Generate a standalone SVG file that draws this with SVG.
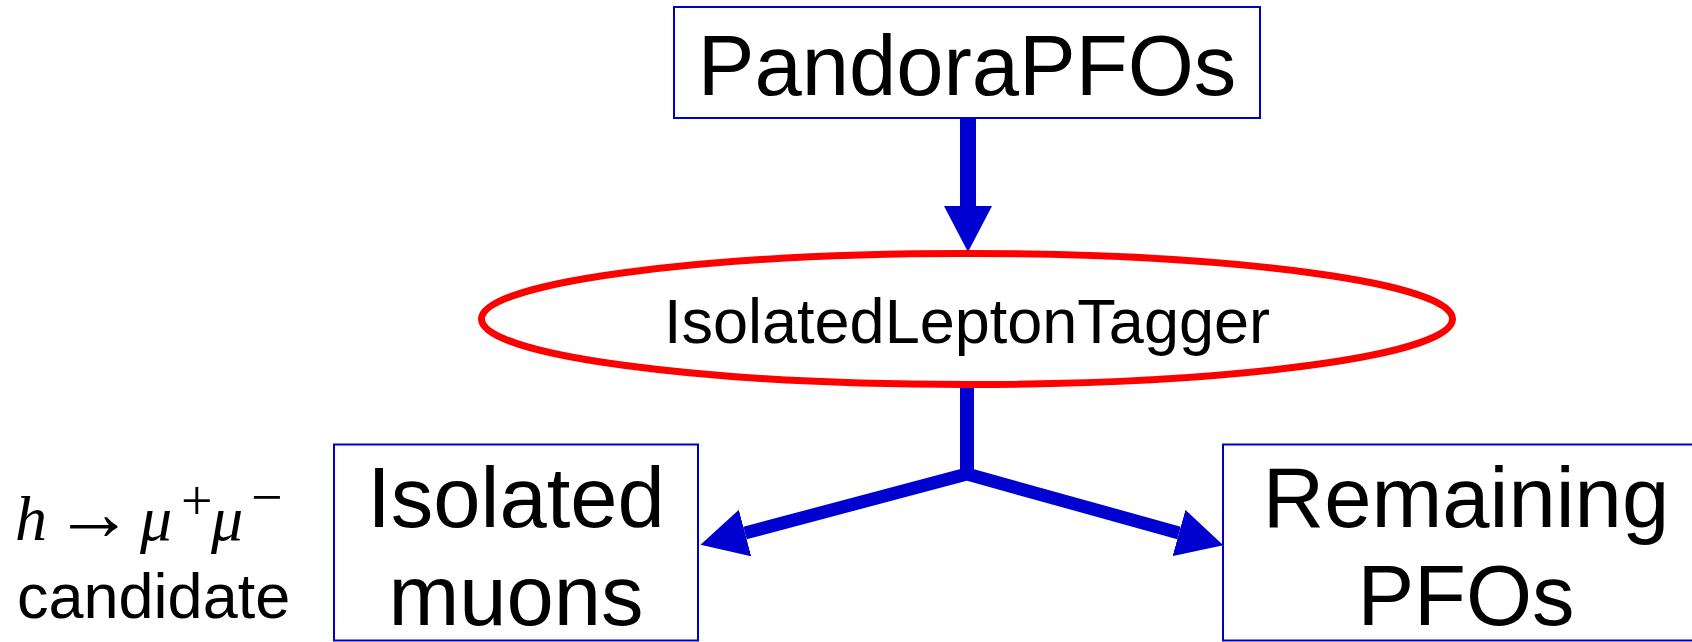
<svg xmlns="http://www.w3.org/2000/svg" width="1692" height="642" viewBox="0 0 1692 642">
<style>
.box{fill:#ffffff;stroke:#0000cc;stroke-width:2}
.big{font-family:"Liberation Sans",Arial,sans-serif;font-size:85px;fill:#000;text-anchor:middle}
.mid{font-family:"Liberation Sans",Arial,sans-serif;font-size:63px;fill:#000}
.conn{fill:none;stroke:#0000d0}
.math{font-family:"Liberation Serif","Times New Roman",serif;font-size:64px;fill:#000}
.sup{font-size:56px}
</style>
<defs>
<marker id="ah" markerUnits="userSpaceOnUse" markerWidth="46" markerHeight="48" viewBox="0 0 46 48" refX="0" refY="24" orient="auto-start-reverse">
<path d="M0,0 L46,24 L0,48 z" fill="#0000d0"/>
</marker>
</defs>
<rect width="1692" height="642" fill="#ffffff"/>
<g id="connectors">
<path class="conn" d="M968,119 L968,206" stroke-width="16" marker-end="url(#ah)"/>
<path class="conn" d="M967,385 L967,474" stroke-width="14"/>
<path class="conn" d="M745,533 L967,474 L1179,533" stroke-width="13" stroke-linejoin="miter" marker-start="url(#ah)" marker-end="url(#ah)"/>
</g>
<g id="pandora">
<rect class="box" x="674" y="7" width="586" height="111"/>
<text class="big" x="967" y="95">PandoraPFOs</text>
</g>
<g id="tagger">
<ellipse cx="967" cy="319" rx="485.5" ry="65.5" fill="none" stroke="#ff0000" stroke-width="7"/>
<text class="mid" x="967" y="343" text-anchor="middle">IsolatedLeptonTagger</text>
</g>
<g id="muons">
<rect class="box" x="334" y="444.5" width="364" height="196"/>
<text class="big" x="516" y="527">Isolated</text>
<text class="big" x="516" y="625">muons</text>
</g>
<g id="remaining">
<rect class="box" x="1223" y="444.5" width="490" height="196"/>
<text class="big" x="1466" y="527">Remaining</text>
<text class="big" x="1466" y="625">PFOs</text>
</g>
<g id="candidate">
<text class="math" y="540"><tspan x="15" font-style="italic">h</tspan><tspan x="54" font-size="80">→</tspan><tspan x="140" font-style="italic">μ</tspan><tspan class="sup" x="181" y="520">+</tspan><tspan x="211" y="540" font-style="italic">μ</tspan><tspan class="sup" x="251" y="516">−</tspan></text>
<text class="mid" x="17" y="618">candidate</text>
</g>
</svg>
